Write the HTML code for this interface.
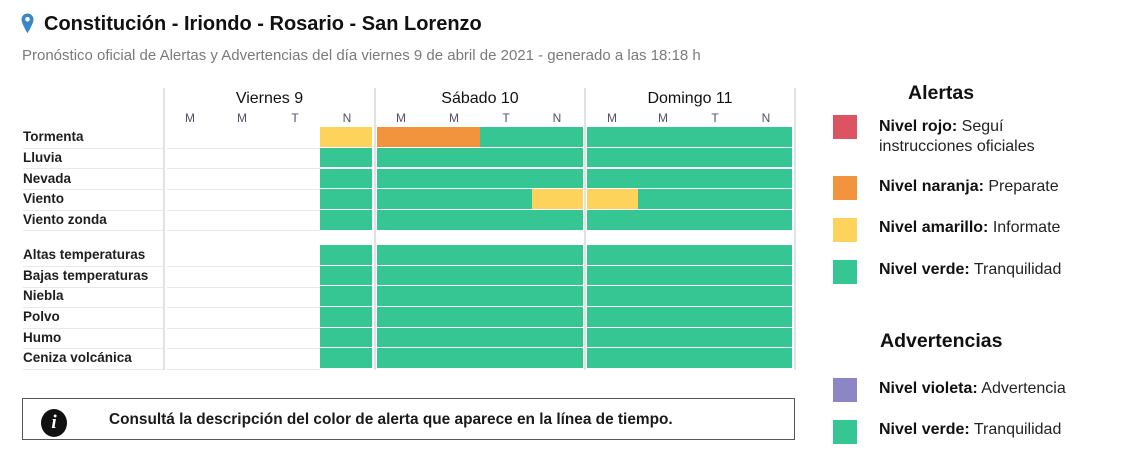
<!DOCTYPE html>
<html>
<head>
<meta charset="utf-8">
<style>
  html,body{margin:0;padding:0;background:#fff;}
  body{width:1127px;height:462px;position:relative;overflow:hidden;font-family:"Liberation Sans",Arial,sans-serif;}
  .a{position:absolute;white-space:nowrap;}
  .title{left:44px;top:12px;font-size:20px;line-height:24px;font-weight:bold;color:#111;}
  .sub{left:22px;top:46px;font-size:15px;line-height:20px;color:#7a7a7a;}
  .day{font-size:16px;line-height:20px;color:#111;top:89px;width:160px;text-align:center;}
  .per{font-size:12px;line-height:14px;color:#5a4c66;top:111px;width:20px;text-align:center;}
  .lab{left:23px;font-size:13.5px;font-weight:bold;color:#1e1e1e;line-height:20px;}
  .hl{position:absolute;height:1px;background:#e9e9e9;}
  .vl{position:absolute;width:2px;top:88px;height:282px;background:#e2e2e2;}
  .c{position:absolute;height:19.6px;}
  .g{background:#35c694;}
  .y{background:#fed35b;}
  .o{background:#f2933d;}
  .sq{position:absolute;left:833px;width:24px;height:24px;}
  .lt{left:879px;font-size:16px;line-height:20px;color:#222;}
  .lt b{color:#111;}
  .hd{font-size:19.5px;font-weight:bold;color:#111;line-height:24px;}
</style>
</head>
<body>

<!-- pin icon -->
<svg class="a" style="left:21px;top:13px" width="13" height="21" viewBox="0 0 13 21">
  <path d="M6.5 0.5C3.1 0.5 0.5 3.1 0.5 6.4c0 4.3 6 13.8 6 13.8s6-9.5 6-13.8C12.5 3.1 9.9 0.5 6.5 0.5z" fill="#3b86c8"/>
  <circle cx="6.5" cy="6.3" r="2.3" fill="#fff"/>
</svg>
<div class="a title">Constitución - Iriondo - Rosario - San Lorenzo</div>
<div class="a sub">Pronóstico oficial de Alertas y Advertencias del día viernes 9 de abril de 2021 - generado a las 18:18 h</div>

<!-- vertical separators -->
<div class="vl" style="left:163px"></div>
<div class="vl" style="left:374px"></div>
<div class="vl" style="left:584px"></div>
<div class="vl" style="left:794px"></div>

<!-- day headers -->
<div class="a day" style="left:189.5px">Viernes 9</div>
<div class="a day" style="left:400px">Sábado 10</div>
<div class="a day" style="left:610px">Domingo 11</div>

<!-- period letters -->
<div class="a per" style="left:180px">M</div>
<div class="a per" style="left:232px">M</div>
<div class="a per" style="left:285px">T</div>
<div class="a per" style="left:337px">N</div>
<div class="a per" style="left:391px">M</div>
<div class="a per" style="left:444px">M</div>
<div class="a per" style="left:496px">T</div>
<div class="a per" style="left:547px">N</div>
<div class="a per" style="left:602px">M</div>
<div class="a per" style="left:653px">M</div>
<div class="a per" style="left:705px">T</div>
<div class="a per" style="left:756px">N</div>

<!-- row labels group 1 -->
<div class="a lab" style="top:127px">Tormenta</div>
<div class="a lab" style="top:147.8px">Lluvia</div>
<div class="a lab" style="top:168.6px">Nevada</div>
<div class="a lab" style="top:189.4px">Viento</div>
<div class="a lab" style="top:210.2px">Viento zonda</div>
<!-- row labels group 2 -->
<div class="a lab" style="top:245px">Altas temperaturas</div>
<div class="a lab" style="top:265.7px">Bajas temperaturas</div>
<div class="a lab" style="top:286.3px">Niebla</div>
<div class="a lab" style="top:307px">Polvo</div>
<div class="a lab" style="top:327.6px">Humo</div>
<div class="a lab" style="top:348.3px">Ceniza volcánica</div>

<!-- horizontal separators: labels -->
<div class="hl" style="left:23px;width:140px;top:147.5px"></div>
<div class="hl" style="left:23px;width:140px;top:168.3px"></div>
<div class="hl" style="left:23px;width:140px;top:189.1px"></div>
<div class="hl" style="left:23px;width:140px;top:209.9px"></div>
<div class="hl" style="left:23px;width:140px;top:230.2px"></div>
<div class="hl" style="left:23px;width:140px;top:265.8px"></div>
<div class="hl" style="left:23px;width:140px;top:286.5px"></div>
<div class="hl" style="left:23px;width:140px;top:307.1px"></div>
<div class="hl" style="left:23px;width:140px;top:327.8px"></div>
<div class="hl" style="left:23px;width:140px;top:348.4px"></div>
<div class="hl" style="left:23px;width:140px;top:368.8px"></div>
<!-- horizontal separators: empty viernes area -->
<div class="hl" style="left:167px;width:153px;top:147.5px"></div>
<div class="hl" style="left:167px;width:153px;top:168.3px"></div>
<div class="hl" style="left:167px;width:153px;top:189.1px"></div>
<div class="hl" style="left:167px;width:153px;top:209.9px"></div>
<div class="hl" style="left:167px;width:153px;top:230.2px"></div>
<div class="hl" style="left:167px;width:153px;top:265.8px"></div>
<div class="hl" style="left:167px;width:153px;top:286.5px"></div>
<div class="hl" style="left:167px;width:153px;top:307.1px"></div>
<div class="hl" style="left:167px;width:153px;top:327.8px"></div>
<div class="hl" style="left:167px;width:153px;top:348.4px"></div>
<div class="hl" style="left:167px;width:153px;top:368.8px"></div>

<!-- Row: Tormenta -->
<div class="c y" style="left:320px;width:52px;top:127px"></div>
<div class="c o" style="left:377px;width:103px;top:127px"></div>
<div class="c g" style="left:480px;width:103px;top:127px"></div>
<div class="c g" style="left:587px;width:205px;top:127px"></div>
<!-- Row: Lluvia -->
<div class="c g" style="left:320px;width:52px;top:147.8px"></div>
<div class="c g" style="left:377px;width:206px;top:147.8px"></div>
<div class="c g" style="left:587px;width:205px;top:147.8px"></div>
<!-- Row: Nevada -->
<div class="c g" style="left:320px;width:52px;top:168.6px"></div>
<div class="c g" style="left:377px;width:206px;top:168.6px"></div>
<div class="c g" style="left:587px;width:205px;top:168.6px"></div>
<!-- Row: Viento -->
<div class="c g" style="left:320px;width:52px;top:189.4px"></div>
<div class="c g" style="left:377px;width:155px;top:189.4px"></div>
<div class="c y" style="left:532px;width:51px;top:189.4px"></div>
<div class="c y" style="left:587px;width:51px;top:189.4px"></div>
<div class="c g" style="left:638px;width:154px;top:189.4px"></div>
<!-- Row: Viento zonda -->
<div class="c g" style="left:320px;width:52px;top:210.2px"></div>
<div class="c g" style="left:377px;width:206px;top:210.2px"></div>
<div class="c g" style="left:587px;width:205px;top:210.2px"></div>

<!-- Group 2 -->
<div class="c g" style="left:320px;width:52px;top:245px"></div>
<div class="c g" style="left:377px;width:206px;top:245px"></div>
<div class="c g" style="left:587px;width:205px;top:245px"></div>

<div class="c g" style="left:320px;width:52px;top:265.7px"></div>
<div class="c g" style="left:377px;width:206px;top:265.7px"></div>
<div class="c g" style="left:587px;width:205px;top:265.7px"></div>

<div class="c g" style="left:320px;width:52px;top:286.3px"></div>
<div class="c g" style="left:377px;width:206px;top:286.3px"></div>
<div class="c g" style="left:587px;width:205px;top:286.3px"></div>

<div class="c g" style="left:320px;width:52px;top:307px"></div>
<div class="c g" style="left:377px;width:206px;top:307px"></div>
<div class="c g" style="left:587px;width:205px;top:307px"></div>

<div class="c g" style="left:320px;width:52px;top:327.6px"></div>
<div class="c g" style="left:377px;width:206px;top:327.6px"></div>
<div class="c g" style="left:587px;width:205px;top:327.6px"></div>

<div class="c g" style="left:320px;width:52px;top:348.3px"></div>
<div class="c g" style="left:377px;width:206px;top:348.3px"></div>
<div class="c g" style="left:587px;width:205px;top:348.3px"></div>

<!-- info box -->
<div class="a" style="left:22px;top:398px;width:771px;height:40px;border:1.5px solid #555;"></div>
<div class="a" style="left:41px;top:409px;width:26px;height:28px;border-radius:50%;background:#111;"></div>
<div class="a" style="left:41px;top:409px;width:26px;line-height:28px;text-align:center;color:#fff;font-family:'Liberation Serif',serif;font-style:italic;font-weight:bold;font-size:19px;">i</div>
<div class="a" style="left:109px;top:409px;font-size:15.4px;line-height:22px;font-weight:bold;color:#1a1a1a;">Consultá la descripción del color de alerta que aparece en la línea de tiempo.</div>

<!-- legend -->
<div class="a hd" style="left:908px;top:81px">Alertas</div>
<div class="sq" style="top:115px;background:#dc5462;"></div>
<div class="a lt" style="top:117px"><b>Nivel rojo:</b> Seguí</div>
<div class="a lt" style="top:137px">instrucciones oficiales</div>
<div class="sq" style="top:176px;background:#f2933d;"></div>
<div class="a lt" style="top:177px"><b>Nivel naranja:</b> Preparate</div>
<div class="sq" style="top:218px;background:#fed35b;"></div>
<div class="a lt" style="top:218px"><b>Nivel amarillo:</b> Informate</div>
<div class="sq" style="top:260px;background:#35c694;"></div>
<div class="a lt" style="top:260px"><b>Nivel verde:</b> Tranquilidad</div>

<div class="a hd" style="left:880px;top:329px">Advertencias</div>
<div class="sq" style="top:378px;background:#8d86c6;"></div>
<div class="a lt" style="top:379px"><b>Nivel violeta:</b> Advertencia</div>
<div class="sq" style="top:420px;background:#35c694;"></div>
<div class="a lt" style="top:420px"><b>Nivel verde:</b> Tranquilidad</div>

</body>
</html>
